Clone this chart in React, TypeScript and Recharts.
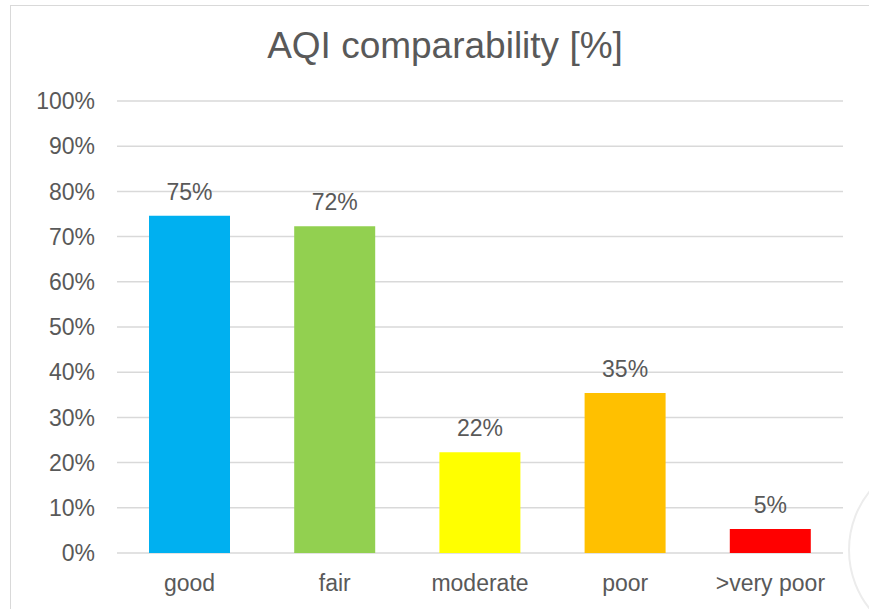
import React from "react";
import { BarChart, Bar, XAxis, YAxis, CartesianGrid, Cell, LabelList } from "recharts";

const categories = ["good", "fair", "moderate", "poor", ">very poor"];
const values = [74.6, 72.3, 22.3, 35.4, 5.3];
const barColors = ["#00B0F0", "#92D050", "#FFFF00", "#FFC000", "#FF0000"];
const yTicks = [0, 10, 20, 30, 40, 50, 60, 70, 80, 90, 100];
const title = "AQI comparability [%]";

const data = categories.map((c, i) => ({ name: c, value: values[i] }));

const FONT = "'Liberation Sans', Arial, sans-serif";
const TEXT = "#595959";

export default function App() {
  return (
    <div style={{ position: "fixed", left: 0, top: 0, width: 869, height: 609, overflow: "hidden", background: "#fff", fontFamily: FONT }}>
      <div style={{ position: "absolute", left: 10, top: 5, width: 950, height: 700, border: "1.5px solid #d9d9d9", boxSizing: "border-box" }} />
      <div style={{ position: "absolute", left: 848, top: 455, width: 190, height: 190, borderRadius: "50%", border: "2px solid #ececec", boxSizing: "border-box" }} />
      <div style={{ position: "absolute", left: 0, top: 22, width: 890, textAlign: "center", fontSize: 37, color: TEXT, lineHeight: "48px" }}>{title}</div>
      <div style={{ position: "absolute", left: 0, top: 0 }}>
        <BarChart width={869} height={609} data={data} margin={{ top: 101, right: 26, bottom: 26, left: 0 }} barCategoryGap={32}>
          <CartesianGrid vertical={false} stroke="#d9d9d9" strokeWidth={1.5} />
          <XAxis dataKey="name" axisLine={false} tickLine={false} tickSize={0} tickMargin={22} height={30}
            tick={{ fill: TEXT, fontSize: 23, fontFamily: FONT }} interval={0} />
          <YAxis domain={[0, 100]} ticks={yTicks} width={117} axisLine={false} tickLine={false} tickSize={0} tickMargin={22}
            tickFormatter={(v: number) => `${v}%`} tick={{ fill: TEXT, fontSize: 23, fontFamily: FONT }} />
          <Bar dataKey="value" isAnimationActive={false}>
            {data.map((d, i) => (
              <Cell key={d.name} fill={barColors[i]} />
            ))}
            <LabelList dataKey="value" position="top" offset={16} formatter={(v: number) => `${Math.round(v)}%`}
              style={{ fill: TEXT, fontSize: 23, fontFamily: FONT }} />
          </Bar>
        </BarChart>
      </div>
    </div>
  );
}
